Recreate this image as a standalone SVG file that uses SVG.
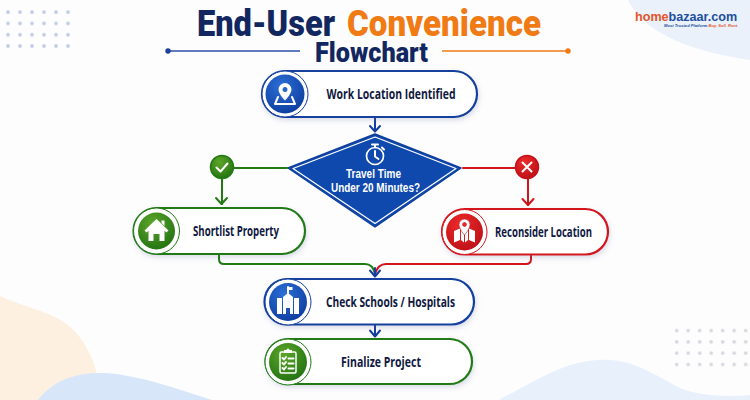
<svg xmlns="http://www.w3.org/2000/svg" width="750" height="400" viewBox="0 0 750 400">
<style>
.t{font-family:"Open Sans","Liberation Sans",sans-serif;font-weight:700;font-size:14.500px;fill:#10183f;text-anchor:middle}
.tw{font-family:"Liberation Sans",sans-serif;font-size:12.200px;fill:#fff}
.title{font-family:"Roboto","Liberation Sans",sans-serif;font-weight:900}
.logo{font-family:"Liberation Sans",sans-serif;font-weight:700;font-size:12.600px}
.tag{font-family:"Liberation Sans",sans-serif;font-style:italic;font-weight:700;font-size:4.100px}
.pill{fill:#fff;stroke-width:2.200;filter:url(#sh)}
.ring{fill:#fff;stroke-width:1}
.b{stroke:#123f9e}.g{stroke:#217a12}.r{stroke:#d3141b}
.c{fill:none;stroke-width:2;stroke-linecap:round;stroke-linejoin:round}
.w{fill:#fff}
.wl{fill:none;stroke:#fff;stroke-width:2;stroke-linecap:round;stroke-linejoin:round}
.d1{fill:#8fa3cf;opacity:.55}.d2{fill:#c3c8d0;opacity:.7}
</style>
<defs>
<filter id="sh" x="-10%" y="-20%" width="120%" height="150%"><feDropShadow dx="1" dy="2.500" stdDeviation="2.500" flood-color="#5a6a90" flood-opacity=".22"/></filter>
<radialGradient id="gb" cx=".4" cy=".3" r=".8"><stop offset="0" stop-color="#2c6fd6"/><stop offset="1" stop-color="#0b3a9c"/></radialGradient>
<radialGradient id="gg" cx=".4" cy=".3" r=".8"><stop offset="0" stop-color="#5da62a"/><stop offset="1" stop-color="#1d6e10"/></radialGradient>
<radialGradient id="gr" cx=".4" cy=".3" r=".8"><stop offset="0" stop-color="#ee2a2a"/><stop offset="1" stop-color="#b80f16"/></radialGradient>
<pattern id="dots1" width="12" height="11.300" patternUnits="userSpaceOnUse" x="2" y="6.500"><circle cx="6" cy="5.600" r="1.900" class="d1"/></pattern>
<pattern id="dots2" width="11.500" height="11.300" patternUnits="userSpaceOnUse" x="671" y="325"><circle cx="5.700" cy="5.600" r="1.800" class="d2"/></pattern>
</defs>

<g id="background">
<rect width="750" height="400" fill="#fdfdfe"/>
<path d="M628 0C645 35 695 52 750 60V0Z" fill="#eaf1fb"/>
<path d="M0 296C30 310 60 312 78 335C90 350 95 365 98 378L60 400H0Z" fill="#fdf0e0"/>
<path d="M38 400C55 378 80 372 105 373C140 375 180 390 212 400Z" fill="#d8e6f9"/>
<path d="M500 399C530 385 560 362 598 360C630 358 650 372 680 388C700 396 725 397 750 395V400H500Z" fill="#e8f1fb"/>
<rect x="2" y="6.500" width="72" height="45.200" fill="url(#dots1)"/>
<rect x="671" y="325" width="79" height="45.200" fill="url(#dots2)"/>
</g>

<g id="title">
<text x="197" y="36" class="title" font-size="36" fill="#12275f" textLength="138" lengthAdjust="spacingAndGlyphs">End-User</text>
<text x="347" y="36" class="title" font-size="36" fill="#f07a14" textLength="194" lengthAdjust="spacingAndGlyphs">Convenience</text>
<text x="315" y="62" class="title" font-size="27" fill="#12275f" textLength="113" lengthAdjust="spacingAndGlyphs">Flowchart</text>
<path d="M168 51H300" stroke="#2a4fa8" stroke-width="1.500"/><circle cx="168" cy="51" r="2.700" fill="#1c3f9c"/>
<path d="M442 51H568" stroke="#f07a14" stroke-width="1.500"/><circle cx="568" cy="51" r="2.700" fill="#f07a14"/>
</g>

<g id="logo">
<text x="635" y="20.500" class="logo"><tspan fill="#e4552a">home</tspan><tspan fill="#1d4f9e">bazaar.com</tspan></text>
<text x="664" y="27.300" class="tag"><tspan fill="#1d4f9e">Most Trusted Platform </tspan><tspan fill="#e4552a">Buy. Sell. Rent.</tspan></text>
</g>

<g id="connectors">
<path class="c b" d="M375 117V131M370 126L375 131.500L380 126"/>
<path class="c g" d="M287 168H222V204"/><path class="c g" d="M216 198L221.500 204L227 198"/>
<path class="c r" d="M463 168H528V205"/><path class="c r" d="M522.500 199L528 205L533.500 199"/>
<path class="c g" d="M219 254V259Q219 264 224 264H365Q373 264 375 274"/>
<path class="c r" d="M531 254V259Q531 264 526 264H386Q378 264 375 274"/>
<path class="c b" d="M375 268V276M370 270.500L375 276.500L380 270.500"/>
<path class="c b" d="M375 324V336M370 330.500L375 336.500L380 330.500"/>
</g>

<g id="n-work">
<rect class="pill b" x="262" y="71" width="215" height="46" rx="23"/>
<circle class="ring b" cx="285" cy="94" r="23"/><circle cx="285" cy="94" r="19.500" fill="url(#gb)"/>
<path class="w" fill-rule="evenodd" d="M285 83a6.500 6.500 0 0 1 6.500 6.500C291.500 94 285 100.500 285 100.500S278.500 94 278.500 89.500A6.500 6.500 0 0 1 285 83ZM285 87a2.500 2.500 0 1 0 .01 0Z"/>
<path class="wl" stroke-width="1.800" d="M278 97L275 104H295L292 97"/>
<text class="t" x="391" y="99" textLength="129" lengthAdjust="spacingAndGlyphs">Work Location Identified</text>
</g>

<g id="n-decision">
<path d="M375 134L461 168L375 227L288 168Z" fill="#0f49ad" stroke="#0f3f9c" stroke-width="1.500" stroke-linejoin="round"/>
<path d="M375 137L456 168.500L375 223.500L293 168.500Z" fill="none" stroke="#fff" stroke-width="1.200" stroke-linejoin="round"/>
<circle cx="375" cy="156" r="8.500" fill="none" stroke="#fff" stroke-width="1.700"/>
<path class="wl" stroke-width="1.500" d="M372 144.500H378M375 145V147.500M375 151V156.500L378.500 159M382 147.500L384 149.500"/>
<text class="t tw" x="373.500" y="178" textLength="55" lengthAdjust="spacingAndGlyphs">Travel Time</text>
<text class="t tw" x="375.500" y="192" textLength="89" lengthAdjust="spacingAndGlyphs">Under 20 Minutes?</text>
</g>

<g id="n-yes">
<circle cx="222" cy="167" r="11.500" fill="url(#gg)" stroke="#217a12" stroke-width="1.500"/>
<path class="wl" stroke-width="2.800" d="M216.500 167.500L220.500 171.500L227.500 163.500"/>
</g>
<g id="n-no">
<circle cx="527" cy="167" r="11.500" fill="url(#gr)" stroke="#c4121a" stroke-width="1.500"/>
<path class="wl" stroke-width="2.800" d="M522.500 162.500L531.500 171.500M531.500 162.500L522.500 171.500"/>
</g>

<g id="n-shortlist">
<rect class="pill g" x="133.500" y="208" width="171.500" height="46" rx="23"/>
<circle class="ring g" cx="156.500" cy="231" r="23"/><circle cx="156.500" cy="231" r="18.500" fill="url(#gg)"/>
<path class="w" d="M156.500 219L168.500 230.500L166.500 232.500L164.500 230.700V241H159.500V234H153.500V241H148.500V230.700L146.500 232.500L144.500 230.500Z"/>
<path class="w" d="M161.500 220.500H164.500V226L161.500 223Z"/>
<text class="t" x="236" y="236" textLength="86" lengthAdjust="spacingAndGlyphs">Shortlist Property</text>
</g>

<g id="n-reconsider">
<rect class="pill r" x="442" y="209" width="166" height="45.500" rx="22.700"/>
<circle class="ring r" cx="464.500" cy="232" r="22.500"/><circle cx="464.500" cy="232" r="18.500" fill="url(#gr)"/>
<path class="w" d="M454 231L460 228.500V240L454 242.500ZM461 228.500L464 231V242.500L461 240ZM465 231L468 228.500V240L465 242.500ZM469 228.500L475 231V242.500L469 240Z"/>
<path class="w" fill-rule="evenodd" stroke="#c4121a" stroke-width=".6" d="M464.500 219a5.500 5.500 0 0 1 5.500 5.500C470 229 464.500 235 464.500 235S459 229 459 224.500A5.500 5.500 0 0 1 464.500 219ZM464.500 222.500a2 2 0 1 0 .01 0Z"/>
<text class="t" x="543.500" y="237" textLength="97" lengthAdjust="spacingAndGlyphs">Reconsider Location</text>
</g>

<g id="n-check">
<rect class="pill b" x="264.500" y="279" width="209.500" height="45.500" rx="22.700"/>
<circle class="ring b" cx="288" cy="302" r="23"/><circle cx="288" cy="302" r="19" fill="url(#gb)"/>
<path class="w" fill-rule="evenodd" d="M277 298H282V314H277ZM294 298H299V314H294ZM283 314V297L288 293L293 297V314H290V308H286V314Z"/>
<path class="wl" stroke-width="1" d="M288 293V287"/><path class="w" d="M288 287H292.500V290H288Z"/>
<text class="t" x="390.500" y="307" textLength="129" lengthAdjust="spacingAndGlyphs">Check Schools / Hospitals</text>
</g>

<g id="n-finalize">
<rect class="pill g" x="265.500" y="339" width="206.500" height="45" rx="22.500"/>
<circle class="ring g" cx="288" cy="362" r="23"/><circle cx="288" cy="362" r="19" fill="url(#gg)"/>
<rect x="280" y="352" width="16" height="21" rx="1.500" fill="none" stroke="#fff" stroke-width="1.500"/>
<path class="w" d="M284 353V350H286.500A1.500 1.500 0 0 1 289.500 350H292V353Z"/>
<path class="wl" stroke-width="1.200" d="M282.500 358L284 359.500L286 357M288.500 358.500H293.500M282.500 363L284 364.500L286 362M288.500 363.500H293.500M282.500 368L284 369.500L286 367M288.500 368.500H293.500"/>
<text class="t" x="381" y="367" textLength="80" lengthAdjust="spacingAndGlyphs">Finalize Project</text>
</g>
</svg>
